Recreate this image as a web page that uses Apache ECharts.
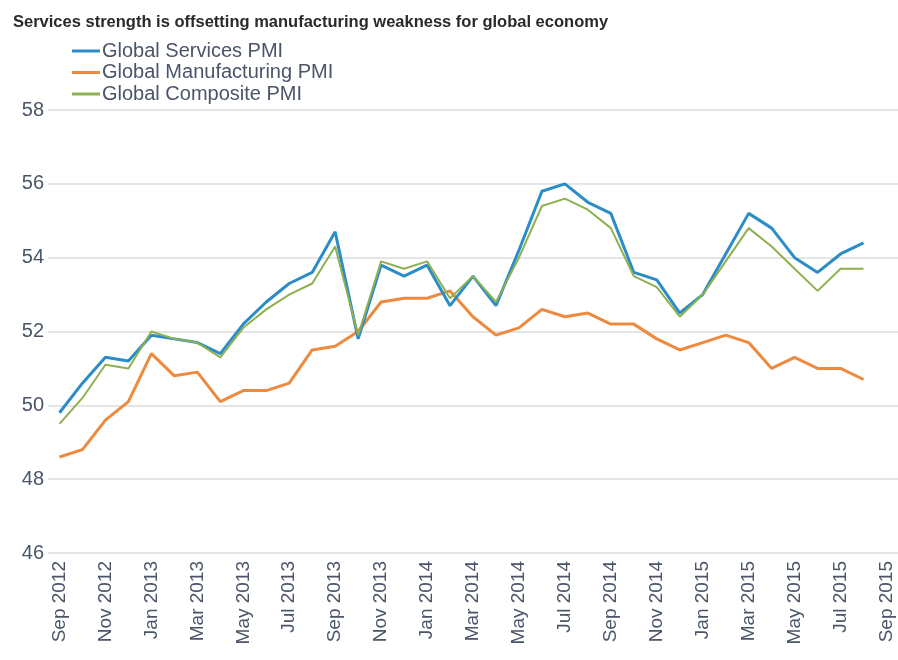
<!DOCTYPE html>
<html>
<head>
<meta charset="utf-8">
<script src="https://cdn.jsdelivr.net/npm/echarts@6/dist/echarts.min.js"></script>
<style>
  html, body { margin: 0; padding: 0; background: #fff; }
  #chart { width: 898px; height: 660px; }
</style>
</head>
<body>
<div id="chart"></div>
<script>
// months Sep 2012 .. Sep 2015 (data runs to Aug 2015)
const monthNames = ['Jan', 'Feb', 'Mar', 'Apr', 'May', 'Jun', 'Jul', 'Aug', 'Sep', 'Oct', 'Nov', 'Dec'];
const months = [];
for (let i = 0; i < 37; i++) {
  const m = (8 + i) % 12;
  const y = 2012 + Math.floor((8 + i) / 12);
  months.push(monthNames[m] + ' ' + y);
}

const services = [
  49.8, 50.6, 51.3, 51.2, 51.9, 51.8, 51.7, 51.4, 52.2, 52.8, 53.3, 53.6,
  54.7, 51.8, 53.8, 53.5, 53.8, 52.7, 53.5, 52.7, 54.2, 55.8, 56.0, 55.5,
  55.2, 53.6, 53.4, 52.5, 53.0, 54.1, 55.2, 54.8, 54.0, 53.6, 54.1, 54.4
];
const manufacturing = [
  48.6, 48.8, 49.6, 50.1, 51.4, 50.8, 50.9, 50.1, 50.4, 50.4, 50.6, 51.5,
  51.6, 52.0, 52.8, 52.9, 52.9, 53.1, 52.4, 51.9, 52.1, 52.6, 52.4, 52.5,
  52.2, 52.2, 51.8, 51.5, 51.7, 51.9, 51.7, 51.0, 51.3, 51.0, 51.0, 50.7
];
const composite = [
  49.5, 50.2, 51.1, 51.0, 52.0, 51.8, 51.7, 51.3, 52.1, 52.6, 53.0, 53.3,
  54.3, 51.9, 53.9, 53.7, 53.9, 52.9, 53.5, 52.8, 54.0, 55.4, 55.6, 55.3,
  54.8, 53.5, 53.2, 52.4, 53.0, 53.9, 54.8, 54.3, 53.7, 53.1, 53.7, 53.7
];

const chart = echarts.init(document.getElementById('chart'));
const labelColor = '#4a5568';

chart.setOption({
  animation: false,
  textStyle: { fontFamily: 'Liberation Sans, Arial, sans-serif' },
  title: {
    text: 'Services strength is offsetting manufacturing weakness for global economy',
    left: 8,
    top: 9,
    textStyle: { fontSize: 16.5, fontWeight: 'bold', color: '#2a2a2a' }
  },
  legend: {
    orient: 'vertical',
    left: 67,
    top: 36,
    itemGap: 1.5,
    itemWidth: 28,
    itemHeight: 3,
    icon: 'rect',
    textStyle: { fontSize: 20, lineHeight: 20, color: labelColor, padding: [0, 0, 0, -3] },
    data: ['Global Services PMI', 'Global Manufacturing PMI', 'Global Composite PMI']
  },
  grid: { left: 48, right: 0, top: 110, bottom: 107 },
  xAxis: {
    type: 'category',
    data: months,
    boundaryGap: true,
    axisLine: { show: false },
    axisTick: { show: false },
    axisLabel: {
      rotate: 90,
      interval: 1,
      fontSize: 19,
      color: labelColor,
      margin: 8
    }
  },
  yAxis: {
    type: 'value',
    min: 46,
    max: 58,
    interval: 2,
    axisLine: { show: false },
    axisTick: { show: false },
    axisLabel: { fontSize: 20, color: labelColor, margin: 4 },
    splitLine: { lineStyle: { color: '#dcdcdc', width: 1.5 } }
  },
  series: [
    {
      name: 'Global Services PMI',
      type: 'line',
      data: services,
      symbol: 'none',
      z: 3,
      itemStyle: { color: '#2a8dc8' },
      lineStyle: { width: 3, color: '#2a8dc8' }
    },
    {
      name: 'Global Manufacturing PMI',
      type: 'line',
      data: manufacturing,
      symbol: 'none',
      z: 2,
      itemStyle: { color: '#ee8a3e' },
      lineStyle: { width: 3, color: '#ee8a3e' }
    },
    {
      name: 'Global Composite PMI',
      type: 'line',
      data: composite,
      symbol: 'none',
      z: 4,
      itemStyle: { color: '#8fb050' },
      lineStyle: { width: 2, color: '#8fb050' }
    }
  ]
});
</script>
</body>
</html>
